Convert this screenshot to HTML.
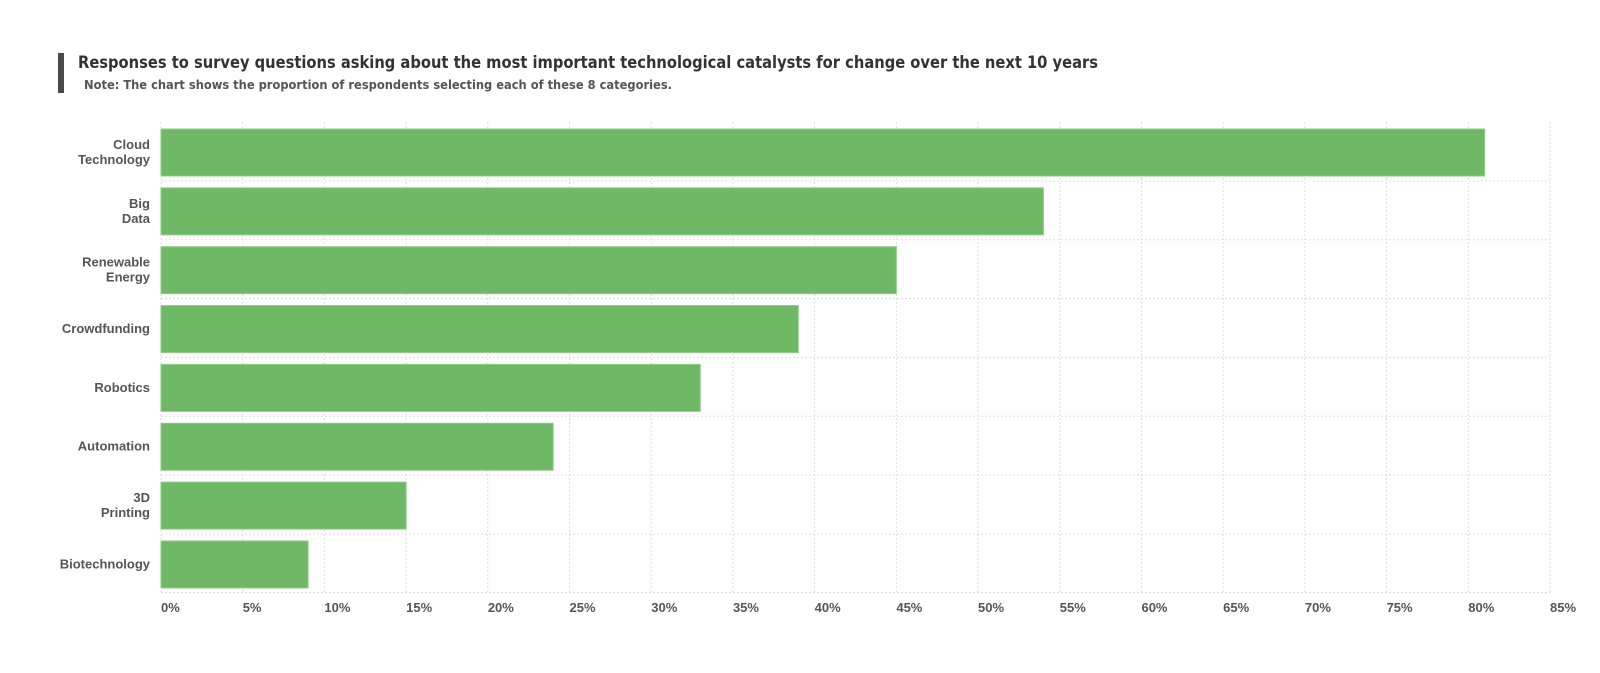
<!DOCTYPE html>
<html><head><meta charset="utf-8"><style>
html,body{margin:0;padding:0;background:#fff;}
svg{display:block;font-family:"Liberation Sans",Arial,sans-serif;}
</style></head><body>
<svg id="chart" width="1600" height="673" viewBox="0 0 1600 673">
<rect x="58" y="53" width="6" height="40" fill="#4a4a4a"/>
<text x="78" y="68" font-size="17" font-weight="bold" fill="#333" textLength="1020" lengthAdjust="spacingAndGlyphs" font-family="DejaVu Sans, Liberation Sans, sans-serif">Responses to survey questions asking about the most important technological catalysts for change over the next 10 years</text>
<text x="84" y="89" font-size="12.5" font-weight="bold" fill="#555" textLength="588" lengthAdjust="spacingAndGlyphs" font-family="DejaVu Sans, Liberation Sans, sans-serif">Note: The chart shows the proportion of respondents selecting each of these 8 categories.</text>
<g id="grid"></g><g id="bars"></g><g id="ylabels"></g><g id="xlabels"></g>
</svg>
<script>
const categories = [["Cloud","Technology"],["Big","Data"],["Renewable","Energy"],["Crowdfunding"],["Robotics"],["Automation"],["3D","Printing"],["Biotechnology"]];
const values = [81,54,45,39,33,24,15,9];
const ticks = [0,5,10,15,20,25,30,35,40,45,50,55,60,65,70,75,80,85];
const NS="http://www.w3.org/2000/svg";
const x0=161,x1=1550,y0=122,band=58.85,xmax=85;
const xs=v=>x0+(x1-x0)*v/xmax;
const yb=i=>y0+band*i;
function mk(tag,attrs,parent){const e=document.createElementNS(NS,tag);for(const k in attrs)e.setAttribute(k,attrs[k]);document.getElementById(parent).appendChild(e);return e;}
ticks.forEach(t=>{
  const g=mk('line',{x1:xs(t),x2:xs(t),y1:y0,y2:yb(8),stroke:'#ddd','stroke-dasharray':'2,2'},'grid');
  
  
  const l=mk('text',{x:xs(t),y:612,'font-size':13,'font-weight':'bold',fill:'#555'},'xlabels');
  l.textContent=t+'%';
  
  
});
for(let i=1;i<=8;i++){
  const h=mk('line',{x1:x0,x2:x1,y1:yb(i),y2:yb(i),stroke:i==8?'#ccc':'#ddd','stroke-dasharray':'2,2'},'grid');
  
  
}
values.forEach((v,i)=>{
  const b=mk('rect',{x:x0,y:yb(i)+7,width:xs(v)-x0,height:47,fill:'#6fb865',stroke:'#8fcc87','stroke-width':1},'bars');
  
  
  const lines=categories[i];
  const cy=yb(i)+band/2;
  lines.forEach((s,j)=>{
    const t=mk('text',{x:150,y:cy+5+(j-(lines.length-1)/2)*15,'font-size':13,'font-weight':'bold',fill:'#555','text-anchor':'end'},'ylabels');
    t.textContent=s;
    
    
  });
});
</script>
</body></html>
